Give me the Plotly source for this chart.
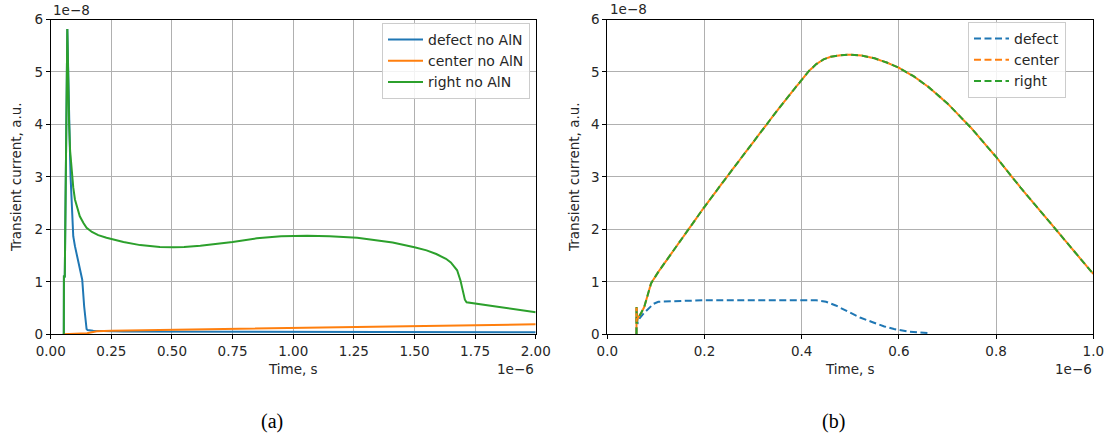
import plotly.graph_objects as go

# ---------------- data (time in units of 1e-6 s, current in units of 1e-8 a.u.) ----------------
# panel (a)
a_t_defect = [0.050, 0.054, 0.0545, 0.058, 0.0685, 0.072, 0.076, 0.079, 0.082, 0.086, 0.093,
              0.100, 0.106, 0.120, 0.130, 0.138, 0.145, 0.148, 0.152, 0.175, 0.300, 1.000, 2.000]
a_v_defect = [0.0, 0.0, 1.1, 1.1, 5.82, 4.8, 4.0, 3.55, 3.0, 2.44, 1.87,
              1.68, 1.55, 1.29, 1.04, 0.53, 0.18, 0.1, 0.08, 0.07, 0.055, 0.05, 0.04]

a_t_center = [0.050, 0.055, 0.100, 0.150, 0.190, 0.250, 1.000, 1.500, 2.000]
a_v_center = [0.0, 0.0, 0.01, 0.02, 0.06, 0.07, 0.12, 0.16, 0.19]

a_t_right = [0.050, 0.054, 0.0545, 0.058, 0.0685, 0.072, 0.076, 0.080, 0.086, 0.093, 0.100,
             0.110, 0.120, 0.135, 0.148, 0.170, 0.196, 0.230, 0.260, 0.300, 0.369, 0.450,
             0.507, 0.550, 0.617, 0.700, 0.750, 0.850, 0.950, 1.058, 1.150, 1.264, 1.350,
             1.410, 1.500, 1.550, 1.590, 1.630, 1.650, 1.676, 1.690, 1.700, 1.708, 1.715,
             1.750, 1.850, 2.000]
a_v_right = [0.0, 0.0, 1.1, 1.1, 5.82, 4.8, 4.0, 3.5, 3.1, 2.8, 2.57,
             2.4, 2.25, 2.12, 2.03, 1.95, 1.89, 1.84, 1.8, 1.76, 1.7, 1.665,
             1.66, 1.665, 1.69, 1.73, 1.76, 1.83, 1.87, 1.88, 1.87, 1.84, 1.79,
             1.75, 1.66, 1.6, 1.53, 1.44, 1.37, 1.22, 1.02, 0.8, 0.66, 0.61,
             0.59, 0.52, 0.42]

# panel (b)
b_t_defect = [0.060, 0.0602, 0.062, 0.066, 0.075, 0.085, 0.095, 0.105, 0.130, 0.200, 0.300,
              0.430, 0.450, 0.470, 0.487, 0.505, 0.520, 0.546, 0.570, 0.590, 0.620, 0.663]
b_v_defect = [0.0, 0.45, 0.2, 0.3, 0.4, 0.5, 0.58, 0.62, 0.63, 0.65, 0.65,
              0.65, 0.62, 0.55, 0.47, 0.39, 0.32, 0.23, 0.15, 0.1, 0.05, 0.02]

b_t_main = [0.060, 0.0602, 0.0606, 0.062, 0.068, 0.076, 0.090, 0.105, 0.125, 0.150, 0.200,
            0.250, 0.300, 0.350, 0.400, 0.415, 0.430, 0.445, 0.460, 0.480, 0.500, 0.525,
            0.550, 0.575, 0.600, 0.630, 0.660, 0.700, 0.750, 0.800, 0.850, 0.900, 0.950,
            1.000]
b_v_center = [0.0, 0.52, 0.2, 0.3, 0.38, 0.52, 0.97, 1.19, 1.45, 1.78, 2.43,
              3.05, 3.66, 4.27, 4.85, 5.02, 5.15, 5.24, 5.29, 5.32, 5.33, 5.31,
              5.26, 5.18, 5.08, 4.92, 4.72, 4.40, 3.92, 3.38, 2.8, 2.25, 1.7,
              1.15]
b_v_right = list(b_v_center)

a_xticks = [0, 0.25, 0.5, 0.75, 1.0, 1.25, 1.5, 1.75, 2.0]
a_xlabels = ["0.00", "0.25", "0.50", "0.75", "1.00", "1.25", "1.50", "1.75", "2.00"]
b_xticks = [0, 0.2, 0.4, 0.6, 0.8, 1.0]
b_xlabels = ["0.0", "0.2", "0.4", "0.6", "0.8", "1.0"]
yticks = [0, 1, 2, 3, 4, 5, 6]

BLUE, ORANGE, GREEN = "#1f77b4", "#ff7f0e", "#2ca02c"
DASH = "7px,3.5px"
DASH_OFF = "0px,7px,3.5px,0px"

fig = go.Figure()
# panel (a)
fig.add_trace(go.Scatter(x=a_t_defect, y=a_v_defect, mode="lines", name="defect no AlN",
                         line=dict(color=BLUE, width=2), xaxis="x", yaxis="y", legend="legend"))
fig.add_trace(go.Scatter(x=a_t_center, y=a_v_center, mode="lines", name="center no AlN",
                         line=dict(color=ORANGE, width=2), xaxis="x", yaxis="y", legend="legend"))
fig.add_trace(go.Scatter(x=a_t_right, y=a_v_right, mode="lines", name="right no AlN",
                         line=dict(color=GREEN, width=2), xaxis="x", yaxis="y", legend="legend"))
# panel (b)
fig.add_trace(go.Scatter(x=b_t_defect, y=b_v_defect, mode="lines", name="defect",
                         line=dict(color=BLUE, width=2, dash=DASH), xaxis="x2", yaxis="y2",
                         legend="legend2"))
fig.add_trace(go.Scatter(x=b_t_main, y=b_v_center, mode="lines", name="center",
                         line=dict(color=ORANGE, width=2, dash=DASH), xaxis="x2", yaxis="y2",
                         legend="legend2"))
fig.add_trace(go.Scatter(x=b_t_main, y=b_v_right, mode="lines", name="right",
                         line=dict(color=GREEN, width=2, dash=DASH), xaxis="x2", yaxis="y2",
                         legend="legend2"))
fig.add_trace(go.Scatter(x=b_t_main, y=b_v_center, mode="lines", name="center",
                         line=dict(color=ORANGE, width=2, dash=DASH_OFF), xaxis="x2", yaxis="y2",
                         showlegend=False))

TXT = "#262626"
FONT = "DejaVu Sans"
axis_common = dict(showline=True, linecolor="black", linewidth=1, mirror=True,
                   showgrid=True, gridcolor="#b0b0b0", gridwidth=1, zeroline=False,
                   ticks="outside", ticklen=4, tickcolor="black", tickwidth=1,
                   automargin=False,
                   tickfont=dict(family=FONT, size=13.5, color=TXT))

ydom = [(439 - 334.3) / 439, (439 - 19.5) / 439]
legend_common = dict(yanchor="top",
                     bgcolor="rgba(255,255,255,0.85)", bordercolor="#cccccc", borderwidth=1,
                     font=dict(family=FONT, size=14, color=TXT), itemwidth=35,
                     tracegroupgap=0)
fig.update_layout(
    width=1111, height=439, margin=dict(l=0, r=0, t=0, b=0, autoexpand=False),
    paper_bgcolor="white", plot_bgcolor="white",
    xaxis=dict(domain=[50.7 / 1111, 535.7 / 1111], range=[0, 2], tickvals=a_xticks,
               ticktext=a_xlabels, anchor="y", **axis_common),
    yaxis=dict(domain=ydom, range=[0, 6], tickvals=yticks, anchor="x", **axis_common),
    xaxis2=dict(domain=[607.3 / 1111, 1093.3 / 1111], range=[0, 1], tickvals=b_xticks,
                ticktext=b_xlabels, anchor="y2", **axis_common),
    yaxis2=dict(domain=ydom, range=[0, 6], tickvals=yticks, anchor="x2", **axis_common),
    legend=dict(x=530 / 1111, y=(439 - 23) / 439, xanchor="right", **legend_common),
    legend2=dict(x=968 / 1111, y=(439 - 22) / 439, xanchor="left", **legend_common),
    showlegend=True,
)

ann = []
def px(x, y, text, size=14, family=FONT, xanchor="center", yanchor="middle", angle=0, color=TXT):
    ann.append(dict(x=x / 1111, y=(439 - y) / 439, xref="paper", yref="paper", text=text,
                    showarrow=False, xanchor=xanchor, yanchor=yanchor, textangle=angle,
                    font=dict(family=family, size=size, color=color)))

px(16, 177, "Transient current, a.u.", size=13.5, angle=-90)
px(574, 177, "Transient current, a.u.", size=13.5, angle=-90)
px(293, 369, "Time, s", size=13.5)
px(850, 369, "Time, s", size=13.5)
px(51, 10, "1e\u22128", size=13.5, xanchor="left")
px(608, 9, "1e\u22128", size=13.5, xanchor="left")
px(536, 369, "1e\u22126", size=13.5, xanchor="right")
px(1094, 369, "1e\u22126", size=13.5, xanchor="right")
px(272, 421, "(a)", size=20, family="Liberation Serif", color="black")
px(833, 421, "(b)", size=20, family="Liberation Serif", color="black")
fig.update_layout(annotations=ann)

fig.write_html("out.html")
